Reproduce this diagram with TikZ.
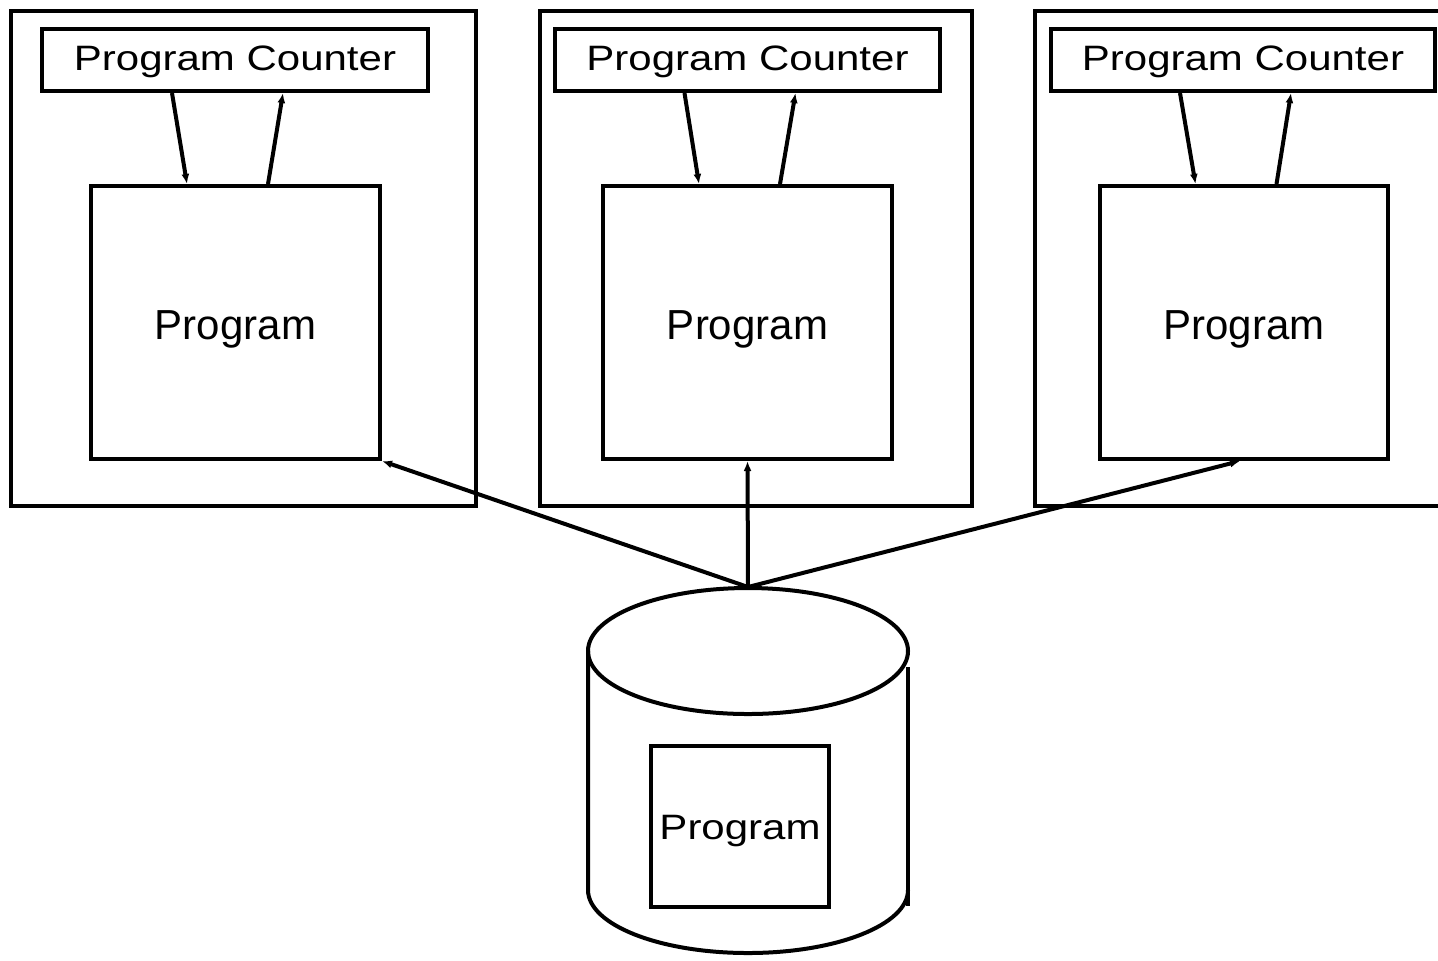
\documentclass[tikz,border=0pt]{standalone}
\usepackage{fontspec}
\setmainfont{Liberation Sans}
\usetikzlibrary{arrows.meta,calc}
\newcommand{\squash}[1]{\scalebox{1}[0.84]{#1}}
\begin{document}
\begin{tikzpicture}[x=0.5pt,y=-0.5pt,
  box/.style={draw,line width=2pt,inner sep=0pt,font=\fontsize{21}{25}\selectfont,text depth=0pt},
  pcbox/.style={box,minimum height=31pt,text height=10.5pt},
  progbox/.style={box,minimum height=136.5pt,text height=16.5pt},
  conn/.style={line width=2pt,-{Latex[length=5pt,width=4pt]}}]
\useasboundingbox (0,0) rectangle (1438,960);
% outer boxes
\node[box,minimum width=232.5pt,minimum height=247.5pt] (o1) at (243.5,258.5) {};
\node[box,minimum width=216pt,minimum height=247.5pt] (o2) at (756,258.5) {};
\node[box,minimum width=217.5pt,minimum height=247.5pt] (o3) at (1252.5,258.5) {};
% program counters
\node[pcbox,minimum width=193pt] (pc1) at (235,60) {\squash{Program Counter}};
\node[pcbox,minimum width=192.5pt] (pc2) at (747.5,60) {\squash{Program Counter}};
\node[pcbox,minimum width=192pt] (pc3) at (1243,60) {\squash{Program Counter}};
% programs
\node[progbox,minimum width=144.5pt] (p1) at (235.5,322.5) {Program};
\node[progbox,minimum width=144.5pt] (p2) at (747.5,322.5) {Program};
\node[progbox,minimum width=144pt] (p3) at (1244,322.5) {Program};
% PC arrows
\foreach \i in {1,2,3}{
  \draw[conn] ([xshift=-31.5pt]pc\i.south) -- ([xshift=-24.25pt]p\i.north);
  \draw[conn] ([xshift=16.25pt]p\i.north) -- ([xshift=24pt]pc\i.south);
}
% cylinder
\begin{scope}[line width=2pt]
\draw (748,651) ellipse [x radius=160,y radius=63];
\draw (588,651) -- (588,890) arc[start angle=180,end angle=360,x radius=160,y radius=-63];
\draw (908,667) -- (908,906);
\end{scope}
\coordinate (top) at (748,587);
\node[box,minimum width=89pt,minimum height=80.5pt,text height=12.5pt] (pd) at (740,826.5) {\squash{Program}};
% distribution arrows
\draw[conn] (top) -- (p1.south east);
\draw[conn] (top) -- (p2.south);
\draw[conn] (top) -- ([xshift=-2pt]p3.south);
\end{tikzpicture}
\end{document}
